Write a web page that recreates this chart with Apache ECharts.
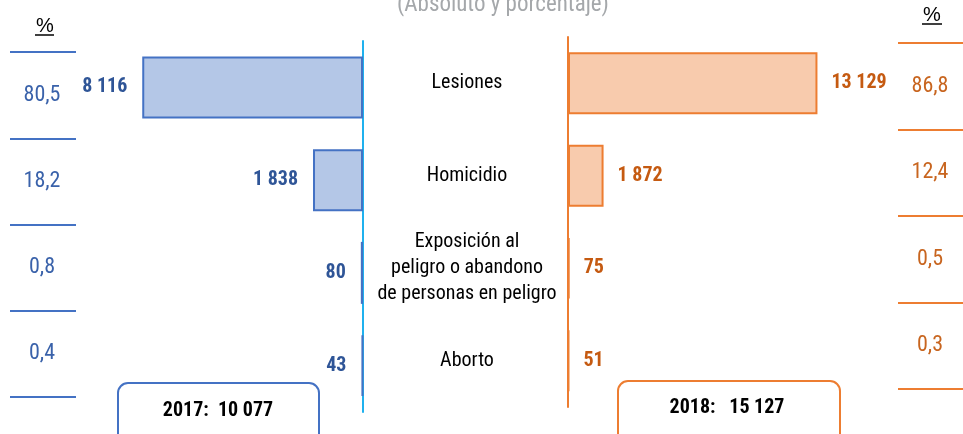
<!DOCTYPE html>
<html>
<head>
<meta charset="utf-8">
<script src="https://cdn.jsdelivr.net/npm/echarts@6/dist/echarts.min.js"></script>
<style>
  html, body { margin: 0; padding: 0; background: #fff; }
  #main { width: 963px; height: 434px; }
</style>
</head>
<body>
<div id="main"></div>
<script>
// 数据
var categories = ['Lesiones', 'Homicidio', 'Exposición al\npeligro o abandono\nde personas en peligro', 'Aborto'];
var values2017 = [8116, 1838, 80, 43];
var values2018 = [13129, 1872, 75, 51];
var pct2017 = [80.5, 18.2, 0.8, 0.4];
var pct2018 = [86.8, 12.4, 0.5, 0.3];
var years = ['2017', '2018'];
var totals = [10077, 15127];

var NARROW = '"Roboto Condensed", "Liberation Sans Narrow", "Arial Narrow", sans-serif';
var BLUE = '#2f5597';
var ORANGE = '#c55a11';

// 千位空格
function fmtNum(v) {
  return String(v).replace(/\B(?=(\d{3})+(?!\d))/g, ' ');
}
function fmtPct(v) {
  return v.toFixed(1).replace('.', ',');
}

var myChart = echarts.init(document.getElementById('main'));

var option = {
  animation: false,
  grid: [
    { left: 91, right: 600, top: 41, height: 371 },     // 2017 bars
    { left: 568, right: 110, top: 37, height: 370 },    // 2018 bars
    { left: 10, width: 66, top: 52, height: 345 },      // 2017 %
    { left: 898, right: 0, top: 43, height: 346 }       // 2018 %
  ],
  xAxis: [
    { gridIndex: 0, type: 'value', inverse: true, min: 0, max: 10000, show: false },
    { gridIndex: 1, type: 'value', min: 0, max: 15000, show: false },
    { gridIndex: 2, type: 'value', min: 0, max: 1, show: false },
    { gridIndex: 3, type: 'value', min: 0, max: 1, show: false }
  ],
  yAxis: [
    {
      gridIndex: 0, type: 'category', inverse: true, data: categories,
      position: 'right',
      axisLine: { onZero: false, lineStyle: { color: '#1fb1ee', width: 2 } },
      axisTick: { show: false },
      axisLabel: { show: false }
    },
    {
      gridIndex: 1, type: 'category', inverse: true, data: categories,
      position: 'left',
      axisLine: { onZero: false, lineStyle: { color: '#ed7d31', width: 2 } },
      axisTick: { show: false },
      axisLabel: {
        margin: 101,
        align: 'center',
        color: '#000',
        fontSize: 20,
        lineHeight: 26,
        fontFamily: NARROW
      }
    },
    {
      gridIndex: 2, type: 'category', inverse: true, data: pct2017.map(fmtPct),
      axisLine: { show: false },
      axisTick: { show: false },
      splitLine: { show: true, lineStyle: { color: '#4472c4', width: 2 } },
      axisLabel: { margin: -32, align: 'center', color: '#3a62aa', fontSize: 22, fontFamily: NARROW }
    },
    {
      gridIndex: 3, type: 'category', inverse: true, data: pct2018.map(fmtPct),
      axisLine: { show: false },
      axisTick: { show: false },
      splitLine: { show: true, lineStyle: { color: '#ed7d31', width: 2 } },
      axisLabel: { margin: -32, align: 'center', color: '#c8651f', fontSize: 22, fontFamily: NARROW }
    }
  ],
  series: [
    {
      name: years[0], type: 'bar', xAxisIndex: 0, yAxisIndex: 0,
      data: values2017, barWidth: 62,
      itemStyle: { color: '#b4c7e7', borderColor: '#4472c4', borderWidth: 2 },
      label: {
        show: true, position: 'left', distance: 15,
        formatter: function (p) { return fmtNum(p.value); },
        color: BLUE, fontWeight: 'bold', fontSize: 20, fontFamily: NARROW
      }
    },
    {
      name: years[1], type: 'bar', xAxisIndex: 1, yAxisIndex: 1,
      data: values2018, barWidth: 62,
      itemStyle: { color: '#f8cbad', borderColor: '#ed7d31', borderWidth: 2 },
      label: {
        show: true, position: 'right', distance: 14,
        formatter: function (p) { return fmtNum(p.value); },
        color: ORANGE, fontWeight: 'bold', fontSize: 20, fontFamily: NARROW
      }
    }
  ],
  graphic: {
    elements: [
      {
        type: 'text', x: 503, y: 5,
        style: { text: '(Absoluto y porcentaje)', fill: '#a5a8ab', fontSize: 23, fontFamily: NARROW, align: 'center', verticalAlign: 'middle' }
      },
      // 左 %
      {
        type: 'text', x: 45, y: 26,
        style: { text: '%', fill: '#000', fontSize: 20, fontFamily: '"Liberation Sans", sans-serif', align: 'center', verticalAlign: 'middle' }
      },
      { type: 'line', shape: { x1: 35, y1: 35, x2: 54, y2: 35 }, style: { stroke: '#000', lineWidth: 1.5 } },
      // 右 %
      {
        type: 'text', x: 932, y: 15,
        style: { text: '%', fill: '#000', fontSize: 20, fontFamily: '"Liberation Sans", sans-serif', align: 'center', verticalAlign: 'middle' }
      },
      { type: 'line', shape: { x1: 922, y1: 24, x2: 942, y2: 24 }, style: { stroke: '#000', lineWidth: 1.5 } },
      // 合计框
      {
        type: 'rect', shape: { x: 118, y: 383, width: 201, height: 70, r: 10 },
        style: { fill: 'none', stroke: '#4472c4', lineWidth: 2 }
      },
      {
        type: 'text', x: 218, y: 411,
        style: { text: years[0] + ':  ' + fmtNum(totals[0]), fill: '#000', fontSize: 20, fontWeight: 'bold', fontFamily: NARROW, align: 'center', verticalAlign: 'middle' }
      },
      {
        type: 'rect', shape: { x: 618, y: 381, width: 222, height: 70, r: 10 },
        style: { fill: 'none', stroke: '#ed7d31', lineWidth: 2 }
      },
      {
        type: 'text', x: 727, y: 408,
        style: { text: years[1] + ':   ' + fmtNum(totals[1]), fill: '#000', fontSize: 20, fontWeight: 'bold', fontFamily: NARROW, align: 'center', verticalAlign: 'middle' }
      }
    ]
  }
};
myChart.setOption(option);
</script>
</body>
</html>
